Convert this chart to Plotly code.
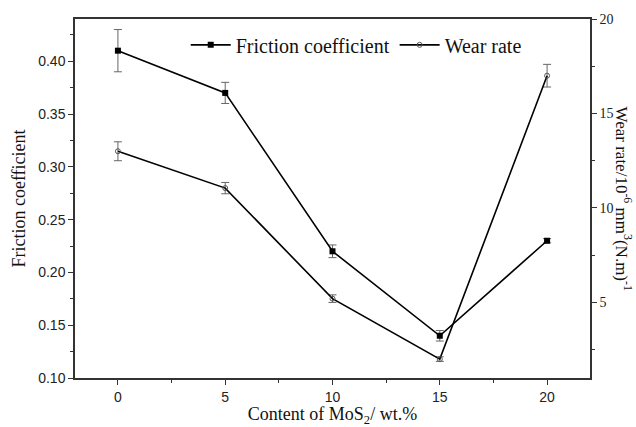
import plotly.graph_objects as go

content = [0, 5, 10, 15, 20]
friction = [0.41, 0.37, 0.22, 0.14, 0.23]
friction_err = [0.02, 0.01, 0.006, 0.005, 0.002]
wear = [13.0, 11.05, 5.2, 2.0, 17.0]
wear_err = [0.5, 0.3, 0.2, 0.12, 0.6]

serif = "Liberation Serif, Times New Roman, serif"
sans = "Liberation Sans, Arial, sans-serif"

fig = go.Figure()
fig.add_trace(go.Scatter(
    x=content, y=friction, name="Friction coefficient", mode="lines+markers",
    line=dict(color="black", width=1.6),
    marker=dict(symbol="square", size=6, color="black"),
    error_y=dict(type="data", array=friction_err, color="#666666", thickness=1, width=4),
    yaxis="y"))
fig.add_trace(go.Scatter(
    x=content, y=wear, name="Wear rate", mode="lines+markers",
    line=dict(color="black", width=1.6),
    marker=dict(symbol="circle-open", size=5, color="#555555", line=dict(width=1)),
    error_y=dict(type="data", array=wear_err, color="#666666", thickness=1, width=4),
    yaxis="y2"))

axis_common = dict(showgrid=False, zeroline=False, showline=True, linecolor="#333333",
                   linewidth=1.5, ticks="outside", ticklen=5, tickcolor="#333333",
                   automargin=False)

fig.update_layout(
    width=636, height=427,
    margin=dict(l=75, r=46, t=19, b=49),
    paper_bgcolor="white", plot_bgcolor="white",
    showlegend=True,
    legend=dict(orientation="h", x=0.215, xanchor="left", y=0.928, yanchor="middle",
                font=dict(family=serif, size=20, color="#111111"),
                bgcolor="rgba(0,0,0,0)", itemwidth=40),
    xaxis=dict(range=[-2, 22], tickmode="linear", tick0=0, dtick=5,
               minor=dict(ticks="outside", ticklen=3, dtick=2.5, tickcolor="#333333"),
               mirror=True,
               tickfont=dict(family=sans, size=14, color="#222222"),
               title=dict(text="Content of MoS<sub>2</sub>/ wt.%", standoff=6,
                          font=dict(family=serif, size=18, color="#111111")),
               **axis_common),
    yaxis=dict(range=[0.1, 0.44], tickmode="linear", tick0=0.1, dtick=0.05, tickformat=".2f",
               minor=dict(ticks="outside", ticklen=3, dtick=0.025, tickcolor="#333333"),
               tickfont=dict(family=sans, size=14, color="#222222"),
               title=dict(text="Friction coefficient", standoff=8,
                          font=dict(family=serif, size=18, color="#111111")),
               **axis_common),
    yaxis2=dict(range=[1, 20], overlaying="y", side="right", tickmode="linear", tick0=0, dtick=5,
                minor=dict(ticks="outside", ticklen=3, dtick=2.5, tickcolor="#333333"),
                tickfont=dict(family=serif, size=14, color="#222222"),
                **axis_common),
    annotations=[dict(
        text="Wear rate/10<sup>-6</sup> mm<sup>3</sup>(N.m)<sup>-1</sup>",
        xref="paper", yref="paper", x=1, y=0.5, xanchor="center", yanchor="middle",
        xshift=34, textangle=90, showarrow=False,
        font=dict(family=serif, size=17, color="#111111"))],
)

fig.write_html("out.html")
